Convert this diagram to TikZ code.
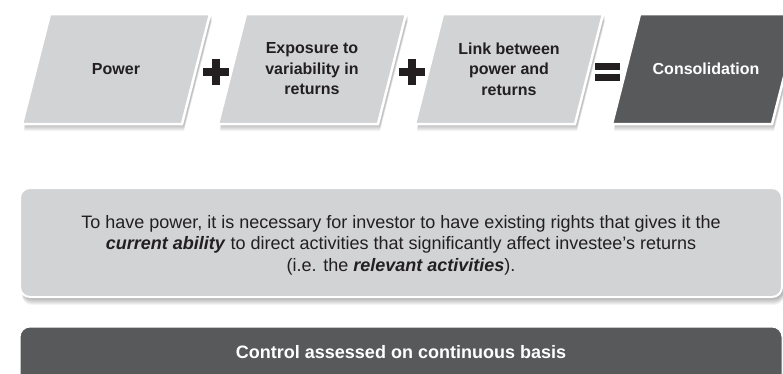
\documentclass[tikz,border=0pt]{standalone}
\usepackage{fontspec}
\setmainfont{Liberation Sans}
\definecolor{lightbox}{HTML}{D1D3D4}
\definecolor{darkbox}{HTML}{58595B}
\definecolor{ink}{HTML}{231F20}
\tikzset{
  shadowlayer/.style={fill=black, opacity=0.045},
  parabox/.style={fill=lightbox, draw=white, line width=2.5pt, line join=miter},
  paradark/.style={fill=darkbox, draw=white, line width=2.5pt, line join=miter},
  roundbox/.style={fill=lightbox, draw=white, line width=2pt, rounded corners=10pt},
  rounddark/.style={fill=darkbox, draw=white, line width=1pt, rounded corners=10pt},
  ttl/.style={font=\bfseries\fontsize{16}{20.5}\selectfont, text=ink, align=center, inner sep=0pt},
  ttlw/.style={ttl, text=white},
  barttl/.style={font=\bfseries\fontsize{18}{21}\selectfont, text=white, inner sep=0pt},
  body/.style={font=\fontsize{18}{21.5}\selectfont, text=ink, align=center, inner sep=0pt},
  opsym/.style={fill=ink, draw=none},
}
\newcommand{\parashape}[2]{% #1 = bottom-left x, #2 = style
  \foreach \k in {1,...,6}{
    \fill[shadowlayer] (#1+2,124+1+\k) -- (#1+28+2,14+1+\k) -- (#1+188+2,14+1+\k) -- (#1+160+2,124+1+\k) -- cycle;
  }
  \path[#2] (#1,124) -- (#1+28,14) -- (#1+188,14) -- (#1+160,124) -- cycle;
}
\begin{document}
\begin{tikzpicture}[x=1pt,y=-1pt]
\useasboundingbox (0,0) rectangle (783,373);
\clip (0,0) rectangle (783,373);
\fill[white] (0,0) rectangle (783,373);

% parallelograms
\parashape{22}{parabox}
\parashape{218}{parabox}
\parashape{415}{parabox}
\parashape{612}{paradark}

\node[ttl]  (power) at (116,69) {Power};
\node[ttl]  (expo)  at (312,69) {Exposure to\\variability in\\returns};
\node[ttl]  (link)  at (509,69) {Link between\\power and\\returns};
\node[ttlw] (cons)  at (706,69) {Consolidation};

% operators
\node[opsym, minimum width=26pt, minimum height=8pt, inner sep=0pt] (plusAh) at (216,72) {};
\node[opsym, minimum width=8pt, minimum height=26pt, inner sep=0pt] (plusAv) at (216,72) {};
\node[opsym, minimum width=26pt, minimum height=8pt, inner sep=0pt] (plusBh) at (412,72) {};
\node[opsym, minimum width=8pt, minimum height=26pt, inner sep=0pt] (plusBv) at (412,72) {};
\node[opsym, minimum width=25pt, minimum height=7pt, inner sep=0pt] (eqA) at (607,66) {};
\node[opsym, minimum width=25pt, minimum height=7pt, inner sep=0pt] (eqB) at (607,77.5) {};

% text box
\foreach \k in {1,...,7}{
  \fill[shadowlayer, rounded corners=10pt] (22,190+\k) rectangle (784,298+\k);
}
\path[roundbox] (20,188) rectangle (782,297);
\node[body] (expl) at (401,245) {To have power, it is necessary for investor to have existing rights that gives it the\\
\textbf{\textit{current ability}} to direct activities that significantly affect investee’s returns\\
(i.e. the \textbf{\textit{relevant activities}}).};

% dark bar
\path[rounddark] (20,327) rectangle (782,395);
\node[barttl] (ctrl) at (401,352) {Control assessed on continuous basis};
\end{tikzpicture}
\end{document}
